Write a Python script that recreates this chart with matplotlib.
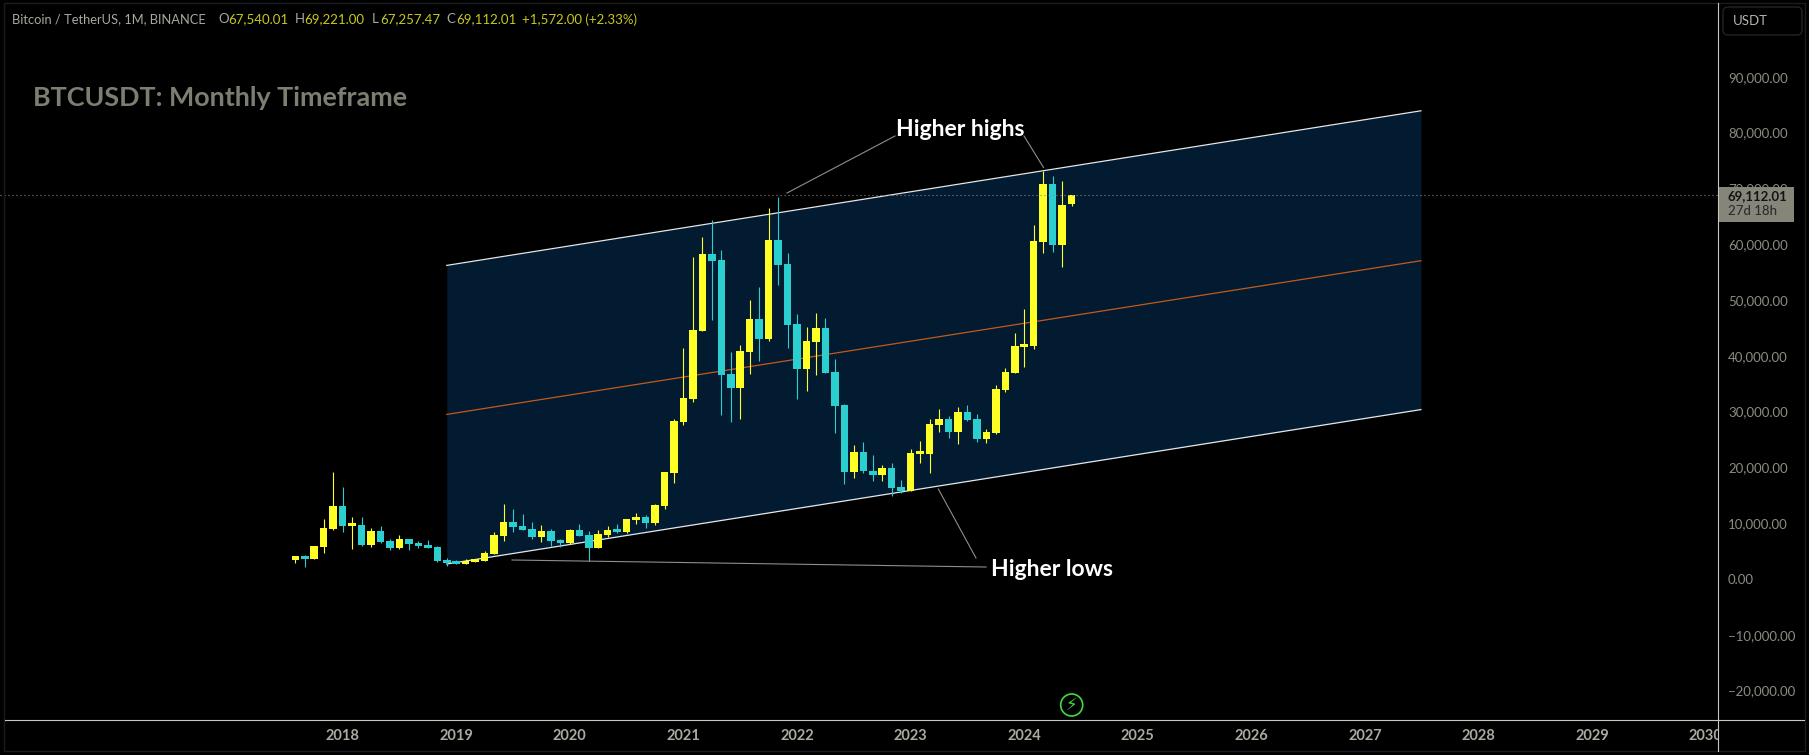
import numpy as np
import matplotlib
matplotlib.use('Agg')
import matplotlib.pyplot as plt
from matplotlib.patches import Circle, FancyBboxPatch, Rectangle

# Candele mensili BTCUSDT (Aug 2017 - Jun 2024)
opens = [3834, 4551, 4013, 6163, 9390, 13512, 9927, 10107, 6522, 9031,
         7238, 5985, 7597, 6881, 6522, 6163, 3834, 3476, 3117, 3476,
         3654, 4909, 8135, 10644, 9927, 9390, 7956, 9031, 7418, 6881,
         9210, 8315, 5985, 8315, 9210, 8852, 11002, 11540, 10465, 13512,
         19423, 28564, 32686, 44873, 58673, 57598, 37167, 34657, 41109, 47024,
         43439, 61182, 56881, 46128, 38063, 42901, 45411, 37525, 31610, 19603,
         23187, 19783, 19066, 20320, 16916, 16199, 22829, 22829, 28026, 29102,
         26773, 30357, 29103, 25519, 26594, 34300, 37347, 42007, 42186, 60824,
         71219, 60286, 67540]
closes = [4551, 4013, 6343, 9569, 13512, 9927, 10107, 6522, 9031, 7060,
          5985, 7597, 6702, 6343, 5985, 3655, 3296, 3117, 3654, 3834,
          5088, 8315, 10644, 9748, 9210, 7956, 9031, 7239, 6881, 9210,
          8135, 5985, 8494, 9210, 8852, 11182, 11540, 10465, 13691, 19605,
          28744, 32866, 45052, 58673, 57418, 36987, 34657, 41289, 47024, 43439,
          61182, 56701, 45948, 38063, 43081, 45411, 37346, 31431, 19603, 23187,
          19783, 19066, 20320, 16736, 16199, 23009, 23009, 28206, 29102, 26771,
          30357, 28924, 25519, 26773, 34480, 37526, 42186, 42365, 60998, 71219,
          60286, 67455, 69112]
highs = [4551, 4730, 6343, 11182, 19605, 16917, 11540, 11540, 9569, 9927,
         7597, 8315, 7597, 7238, 7418, 6343, 4193, 3834, 4013, 4013,
         5447, 8852, 13870, 12974, 12078, 10644, 10107, 9390, 7597, 9390,
         10286, 9031, 9210, 9927, 10286, 11182, 12257, 11898, 13870, 19605,
         29042, 41826, 58135, 61720, 64767, 59390, 41109, 42364, 50429, 52759,
         66917, 68888, 58852, 47920, 45590, 48099, 47203, 39855, 31790, 24442,
         24979, 22650, 20857, 21216, 18169, 23725, 25159, 29102, 30894, 29640,
         31253, 31612, 29999, 27311, 35196, 38243, 44516, 48817, 63871, 73549,
         72652, 71756, 69221]
lows = [3296, 2580, 4013, 5088, 9210, 8852, 5806, 6343, 6163, 6881,
        5626, 5806, 5626, 5985, 5985, 3476, 2758, 3117, 3117, 3476,
        3654, 4909, 7239, 8852, 9210, 7597, 7060, 6343, 6164, 6702,
        8135, 3655, 5985, 7956, 8673, 8673, 10286, 9569, 10107, 12974,
        17513, 28026, 32148, 44873, 46844, 29819, 28564, 29101, 37167, 39497,
        43081, 53117, 41826, 32686, 34120, 36987, 37346, 26594, 17452, 18527,
        19423, 17990, 17990, 15302, 15840, 16199, 21218, 19423, 26771, 25696,
        24622, 28744, 24981, 24801, 26415, 33942, 37347, 38423, 41648, 58853,
        59032, 56343, 67257]

# Canale parallelo (indice candela, prezzo)
channel_x = [16, 118.9]
channel_top = [56559, 84265]
channel_mid = [29857, 57401]
channel_low = [3047, 30717]

price_ticks = [90000, 80000, 70000, 60000, 50000, 40000, 30000, 20000, 10000, 0, -10000, -20000]
year_labels = ['2018', '2019', '2020', '2021', '2022', '2023', '2024', '2025', '2026', '2027', '2028', '2029', '2030']
last_close = 69112.01

BG = '#000000'
UP = '#ffff26'
DOWN = '#2bcfcf'
GREY = '#8c8c82'
plt.rcParams['font.family'] = ['Lato', 'DejaVu Sans']

W, H = 1809, 755
fig = plt.figure(figsize=(W / 100, H / 100), dpi=100, facecolor=BG)

# Area del grafico: da 0 a 1718 px in orizzontale, da 0 a 750 px in verticale (anni inclusi)
bottom_px = 750.0
ax = fig.add_axes([0, 1 - bottom_px / H, 1718.3 / W, bottom_px / H], facecolor=BG)
px_month = 113.6 / 12
ax.set_xlim(-295.3 / px_month, (1718.3 - 295.3) / px_month)
px_price = 0.00558
zero_y = 581.0
ax.set_ylim((zero_y - bottom_px) / px_price, zero_y / px_price)
ax.axis('off')

x = np.arange(len(opens))
opens = np.array(opens)
closes = np.array(closes)
highs = np.array(highs)
lows = np.array(lows)
up = closes >= opens
colors = [UP if u else DOWN for u in up]

# Canale
ax.fill_between(channel_x, channel_low, channel_top, color='#021b31', lw=0, zorder=1)
ax.plot(channel_x, channel_top, color='#e4e6ea', lw=0.9, zorder=2)
ax.plot(channel_x, channel_low, color='#e4e6ea', lw=0.9, zorder=2)
ax.plot(channel_x, channel_mid, color='#c4591c', lw=0.9, zorder=2)

# Candele
wicks = ax.vlines(x, lows, highs, colors=colors, lw=0.8, zorder=3)
wicks.set_snap(True)
bottoms = np.minimum(opens, closes)
heights = np.maximum(np.abs(closes - opens), 400)
ax.bar(x, heights, bottom=bottoms, width=0.8, color=colors, lw=0, zorder=4, antialiased=False)

# Linea ultimo prezzo
ax.axhline(last_close, color=GREY, lw=0.8, ls=(0, (1, 2.6)), zorder=5)

# Etichette anni (2030 tagliato dalla scala prezzi)
for i, lab in enumerate(year_labels):
    ax.text(5 + 12 * i, (zero_y - 736) / px_price, lab, color='#aaaaa0', fontsize=10.5, fontweight='bold',
            ha='center', va='center', clip_on=True)

# Sovrapposizione in pixel per testi e cornici
ov = fig.add_axes([0, 0, 1, 1], facecolor='none')
ov.set_xlim(0, W)
ov.set_ylim(H, 0)
ov.axis('off')

ov.add_patch(Rectangle((4, 3), 1801, 748, fill=False, ec='#1c1c1c', lw=1))
ov.plot([5, 1804], [720.3, 720.3], color='#c8c8c0', lw=0.8)
ov.plot([1718.3, 1718.3], [3, 751], color='#c8c8c0', lw=0.8)

# Annotazioni
ann = '#8e8e8e'
ov.plot([895, 787], [136, 193], color=ann, lw=0.8, zorder=6)
ov.plot([1024, 1043.5], [136, 167.5], color=ann, lw=0.8, zorder=6)
ov.plot([986, 512], [567, 560], color=ann, lw=0.8, zorder=6)
ov.plot([976, 938.3], [558, 489], color=ann, lw=0.8, zorder=6)
ov.text(960.5, 129, 'Higher highs', color='#ffffff', fontsize=16.5, fontweight='bold', ha='center', va='center')
ov.text(1052, 569, 'Higher lows', color='#ffffff', fontsize=16.5, fontweight='bold', ha='center', va='center')

# Titolo e legenda OHLC
ov.text(33, 98, 'BTCUSDT: Monthly Timeframe', color='#7d7d72', fontsize=19.4, fontweight='bold', ha='left', va='center')
head_y = 19.3
ov.text(12.4, head_y, 'Bitcoin / TetherUS, 1M, BINANCE', color='#a8a8a0', fontsize=9.3, ha='left', va='center')
val = '#c8c81e'
for xl, xv, letter, value in [(218.5, 228, 'O', '67,540.01'), (295, 304.5, 'H', '69,221.00'),
                              (372, 380, 'L', '67,257.47'), (446, 456, 'C', '69,112.01')]:
    ov.text(xl, head_y, letter, color='#a8a8a0', fontsize=9.5, ha='left', va='center')
    ov.text(xv, head_y, value, color=val, fontsize=9.5, ha='left', va='center')
ov.text(522, head_y, '+1,572.00 (+2.33%)', color=val, fontsize=9.5, ha='left', va='center')

# Scala prezzi
for p in price_ticks:
    s = f'{p:,.2f}'.replace('-', '\u2212')
    ov.text(1728, zero_y - p * px_price - 1, s, color=GREY, fontsize=9.5, ha='left', va='center')

ov.add_patch(FancyBboxPatch((1725.5, 9.5), 74, 23, boxstyle='round,pad=2.5,rounding_size=5', fill=False,
                            ec='#232323', lw=1))
ov.text(1733, 21, 'USDT', color='#b4b4ac', fontsize=9.5, ha='left', va='center')

ov.add_patch(Rectangle((1719, 187), 75, 34.7, fc='#85857a', ec='none', zorder=7))
ov.text(1728, 196, '69,112.01', color='#141414', fontsize=9.5, fontweight='bold', ha='left', va='center', zorder=8)
ov.text(1728, 211, '27d 18h', color='#2c2c2c', fontsize=9.5, fontweight='medium', ha='left', va='center', zorder=8)

# Icona verde
ov.add_patch(Circle((1071.7, 705), 11, fill=False, ec='#3fdc3f', lw=1.2))
ov.text(1071.7, 705, '\u26a1', color='#3fdc3f', fontsize=12, family='DejaVu Sans', ha='center', va='center')

fig.savefig('out.png', dpi=100, facecolor=BG)
